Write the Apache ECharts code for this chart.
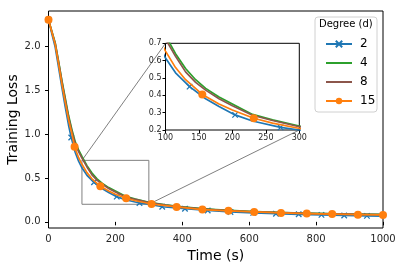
<!DOCTYPE html>
<html><head><meta charset="utf-8">
<script src="https://cdn.jsdelivr.net/npm/echarts@6/dist/echarts.min.js"></script>
<style>html,body{margin:0;padding:0;background:#fff}#c{width:402px;height:270px}</style>
</head><body><div id="c"></div>
<script>
// ---- data ----
const seriesNames = ['2', '4', '8', '15'];
const legendTitle = 'Degree (d)';
const xName = 'Time (s)';
const yName = 'Training Loss';
const xTicks = [0, 200, 400, 600, 800, 1000];
const yTicks = [0.0, 0.5, 1.0, 1.5, 2.0];
const insetX = [100, 300];
const insetY = [0.2, 0.7];
const insetXTicks = [100, 150, 200, 250, 300];
const insetYTicks = [0.2, 0.3, 0.4, 0.5, 0.6, 0.7];

// d = 2 (blue, x markers)
const timeD2 = [0, 10, 20, 30, 40, 50, 60, 68, 80, 90, 100, 115, 136, 160, 180, 204, 230, 272, 300, 340, 408, 476, 544, 612, 680, 748, 816, 884, 952, 1000];
const lossD2 = [2.30, 2.14, 1.99, 1.76, 1.53, 1.31, 1.10, 0.96, 0.79, 0.69, 0.615, 0.53, 0.45, 0.38, 0.335, 0.287, 0.252, 0.215, 0.20, 0.172, 0.149, 0.130, 0.113, 0.102, 0.093, 0.086, 0.079, 0.073, 0.068, 0.065];
const markD2 = [0, 68, 136, 204, 272, 340, 408, 476, 544, 612, 680, 748, 816, 884, 952];

// d = 4 (green)
const timeD4 = [0, 10, 20, 30, 40, 50, 60, 70, 80, 90, 100, 115, 130, 145, 160, 180, 200, 230, 260, 300, 350, 400, 450, 500, 600, 700, 800, 900, 1000];
const lossD4 = [2.30, 2.17, 2.04, 1.83, 1.61, 1.41, 1.21, 1.05, 0.91, 0.82, 0.745, 0.64, 0.555, 0.49, 0.44, 0.39, 0.35, 0.29, 0.258, 0.223, 0.193, 0.171, 0.153, 0.140, 0.120, 0.106, 0.096, 0.089, 0.084];

// d = 8 (brown)
const timeD8 = [0, 10, 20, 30, 40, 50, 60, 70, 80, 90, 100, 115, 130, 145, 160, 180, 200, 230, 260, 300, 350, 400, 450, 500, 600, 700, 800, 900, 1000];
const lossD8 = [2.30, 2.16, 2.03, 1.82, 1.60, 1.39, 1.19, 1.03, 0.89, 0.80, 0.725, 0.625, 0.535, 0.475, 0.43, 0.38, 0.34, 0.285, 0.255, 0.219, 0.190, 0.168, 0.150, 0.137, 0.118, 0.104, 0.094, 0.087, 0.082];

// d = 15 (orange, circle markers)
const timeD15 = [0, 10, 20, 30, 40, 50, 60, 70, 78, 90, 100, 115, 130, 155, 180, 200, 232, 260, 308, 383, 460, 538, 615, 695, 772, 848, 925, 1000];
const lossD15 = [2.30, 2.16, 2.02, 1.80, 1.57, 1.36, 1.16, 1.00, 0.855, 0.73, 0.655, 0.56, 0.49, 0.405, 0.35, 0.315, 0.268, 0.24, 0.203, 0.170, 0.140, 0.125, 0.113, 0.102, 0.094, 0.088, 0.082, 0.079];
const markD15 = [0, 78, 155, 232, 308, 383, 460, 538, 615, 695, 772, 848, 925, 1000];

// ---- styling ----
const colors = ['#1f77b4', '#2ca02c', '#8c564b', '#ff7f0e'];
const xPath = 'path://M0,0L10,10M10,0L0,10';
const FONT = 'DejaVu Sans';

function buildData(times, losses, marks) {
  return times.map((t, i) => {
    const item = { value: [t, losses[i]] };
    if (!marks || marks.indexOf(t) < 0) item.symbol = 'none';
    return item;
  });
}

const defs = [
  { name: seriesNames[0], times: timeD2, loss: lossD2, marks: markD2, color: colors[0], symbol: xPath, size: 5.5, border: 1.3 },
  { name: seriesNames[1], times: timeD4, loss: lossD4, marks: null, color: colors[1], symbol: 'none' },
  { name: seriesNames[2], times: timeD8, loss: lossD8, marks: null, color: colors[2], symbol: 'none' },
  { name: seriesNames[3], times: timeD15, loss: lossD15, marks: markD15, color: colors[3], symbol: 'circle', size: 8, border: 0 }
];

const series = [];
[0, 1].forEach(g => {
  defs.forEach((d, k) => {
    series.push({
      type: 'line',
      name: d.name,
      xAxisIndex: g, yAxisIndex: g,
      data: buildData(d.times, d.loss, d.marks),
      smooth: false,
      symbol: d.symbol,
      symbolSize: d.size || 4,
      showSymbol: true,
      showAllSymbol: true,
      clip: true,
      animation: false,
      z: 3 + k + g * 10,
      lineStyle: { color: d.color, width: 1.7, join: 'round' },
      itemStyle: { color: d.symbol === xPath ? 'none' : d.color, borderColor: d.color, borderWidth: d.border || 0, opacity: 1 },
      emphasis: { disabled: true }
    });
  });
});

// zoom rectangle on main axes (from inset bounds)
series.push({
  type: 'line', xAxisIndex: 0, yAxisIndex: 0, silent: true, symbol: 'none', animation: false, z: 2,
  data: [[insetX[0], insetY[0]], [insetX[1], insetY[0]], [insetX[1], insetY[1]], [insetX[0], insetY[1]], [insetX[0], insetY[0]]],
  lineStyle: { color: '#808080', width: 1 }
});

const tickLabelStyle = { color: '#262626', fontFamily: FONT };

const option = {
  backgroundColor: '#fff',
  animation: false,
  grid: [
    { left: 48.5, top: 11, width: 334.5, height: 217, show: true, borderColor: '#000', borderWidth: 1, backgroundColor: '#fff', z: 0, containLabel: false, outerBoundsMode: 'none' },
    { left: 165.5, top: 43.3, width: 133.8, height: 86.7, show: true, borderColor: '#000', borderWidth: 1, backgroundColor: '#fff', z: 8, containLabel: false, outerBoundsMode: 'none' }
  ],
  xAxis: [
    { type: 'value', gridIndex: 0, min: 0, max: 1000, interval: 200,
      name: xName, nameLocation: 'middle', nameGap: 21, nameMoveOverlap: false,
      nameTextStyle: { fontSize: 14, fontFamily: FONT, color: '#000' },
      axisLine: { show: false }, splitLine: { show: false },
      axisTick: { show: true, length: 3.5, lineStyle: { color: '#000' }, customValues: xTicks },
      axisLabel: { fontSize: 10, margin: 6, ...tickLabelStyle, customValues: xTicks, formatter: v => String(v), hideOverlap: false } },
    { type: 'value', gridIndex: 1, min: insetX[0], max: insetX[1], interval: 50, z: 9,
      axisLine: { show: false }, splitLine: { show: false },
      axisTick: { show: true, length: 3, lineStyle: { color: '#000' }, customValues: insetXTicks },
      axisLabel: { fontSize: 8, margin: 4, ...tickLabelStyle, customValues: insetXTicks, formatter: v => String(v), hideOverlap: false } }
  ],
  yAxis: [
    { type: 'value', gridIndex: 0, min: -0.07, max: 2.4,
      name: yName, nameLocation: 'middle', nameGap: 28, nameMoveOverlap: false,
      nameTextStyle: { fontSize: 14, fontFamily: FONT, color: '#000' },
      axisLine: { show: false }, splitLine: { show: false },
      axisTick: { show: true, length: 3.5, lineStyle: { color: '#000' }, customValues: yTicks },
      axisLabel: { fontSize: 10, margin: 8, ...tickLabelStyle, customValues: yTicks, formatter: v => v.toFixed(1) } },
    { type: 'value', gridIndex: 1, min: insetY[0], max: insetY[1], z: 9,
      axisLine: { show: false }, splitLine: { show: false },
      axisTick: { show: true, length: 3, lineStyle: { color: '#000' }, customValues: insetYTicks },
      axisLabel: { fontSize: 8, margin: 4, ...tickLabelStyle, customValues: insetYTicks, formatter: v => v.toFixed(1) } }
  ],
  legend: {
    data: seriesNames.map((n, i) => (defs[i].symbol === 'none' ? { name: n, itemStyle: { opacity: 0 } } : { name: n })),
    orient: 'vertical', left: 320, top: 33,
    itemWidth: 26, itemHeight: 8, itemGap: 7,
    textStyle: { fontSize: 12, fontFamily: FONT, color: '#000', padding: [0, 0, 0, 3] },
    selectedMode: false, z: 20
  },
  series: series
};

const chart = echarts.init(document.getElementById('c'), null, { renderer: 'canvas' });
chart.setOption(option);

// connector lines and legend frame
const pMainTL = chart.convertToPixel({ gridIndex: 0 }, [insetX[0], insetY[1]]);
const pInsetTL = chart.convertToPixel({ gridIndex: 1 }, [insetX[0], insetY[1]]);
const pMainBR = chart.convertToPixel({ gridIndex: 0 }, [insetX[1], insetY[0]]);
const pInsetBR = chart.convertToPixel({ gridIndex: 1 }, [insetX[1], insetY[0]]);

chart.setOption({
  graphic: [
    { type: 'line', z: 1, silent: true, shape: { x1: pMainTL[0], y1: pMainTL[1], x2: pInsetTL[0], y2: pInsetTL[1] }, style: { stroke: '#808080', lineWidth: 1 } },
    { type: 'line', z: 1, silent: true, shape: { x1: pMainBR[0], y1: pMainBR[1], x2: pInsetBR[0], y2: pInsetBR[1] }, style: { stroke: '#808080', lineWidth: 1 } },
    { type: 'rect', z: 15, silent: true, shape: { x: 315, y: 17, width: 62, height: 95, r: 3 }, style: { fill: 'rgba(255,255,255,0.85)', stroke: '#d0d0d0', lineWidth: 1 } },
    { type: 'text', z: 16, silent: true, left: 346 - 27, top: 19, style: { text: legendTitle, fontSize: 10, fontFamily: FONT, fill: '#000' } }
  ]
});
</script>
</body></html>
